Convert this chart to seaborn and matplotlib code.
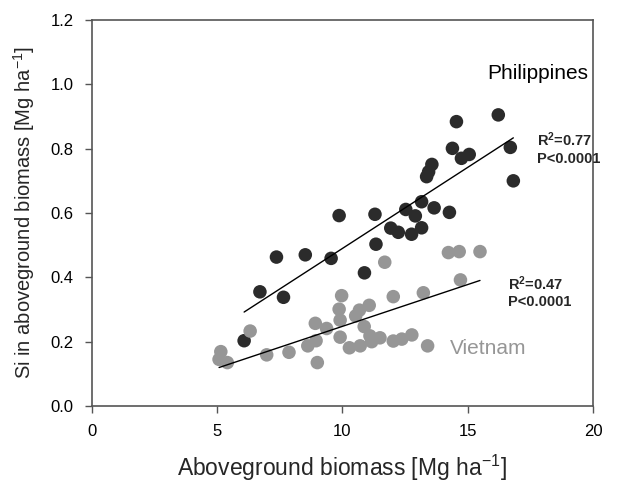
import matplotlib
matplotlib.use("Agg")
import matplotlib.pyplot as plt
import seaborn as sns
import pandas as pd
import numpy as np

# Philippines data (Aboveground biomass, Si in aboveground biomass)
ph_biomass = [6.08, 6.71, 7.37, 7.65, 8.52, 9.55, 9.87, 10.88, 11.30, 11.34,
              11.93, 12.23, 12.53, 12.76, 12.91, 13.16, 13.16, 13.36, 13.44, 13.57,
              13.66, 14.27, 14.39, 14.55, 14.75, 15.06, 16.22, 16.70, 16.82]
ph_si = [0.203, 0.355, 0.463, 0.338, 0.470, 0.459, 0.592, 0.414, 0.596, 0.503,
         0.553, 0.540, 0.611, 0.534, 0.591, 0.635, 0.554, 0.713, 0.728, 0.751,
         0.616, 0.602, 0.801, 0.884, 0.770, 0.782, 0.905, 0.804, 0.700]

# Vietnam data
vn_biomass = [5.15, 5.08, 5.41, 6.32, 6.98, 7.87, 8.62, 8.92, 8.95, 9.00,
              9.37, 9.97, 9.87, 9.91, 9.91, 10.28, 10.53, 10.68, 10.71, 10.87,
              11.07, 11.10, 11.17, 11.50, 11.69, 12.03, 12.03, 12.37, 12.77, 13.23,
              13.40, 14.23, 14.66, 14.71, 15.49]
vn_si = [0.169, 0.145, 0.135, 0.233, 0.159, 0.167, 0.187, 0.257, 0.203, 0.135,
         0.241, 0.343, 0.301, 0.267, 0.214, 0.181, 0.280, 0.298, 0.187, 0.247,
         0.313, 0.218, 0.200, 0.212, 0.447, 0.340, 0.202, 0.208, 0.221, 0.352,
         0.187, 0.477, 0.480, 0.392, 0.480]

x_ticks = [0, 5, 10, 15, 20]
y_ticks = [0.0, 0.2, 0.4, 0.6, 0.8, 1.0, 1.2]
y_tick_labels = ["0.0", "0.2", "0.4", "0.6", "0.8", "1.0", "1.2"]

df = pd.DataFrame({
    "biomass": ph_biomass + vn_biomass,
    "si": ph_si + vn_si,
    "country": ["Philippines"] * len(ph_biomass) + ["Vietnam"] * len(vn_biomass),
})

sns.set_style("ticks")
plt.rcParams["font.family"] = ["Liberation Sans", "DejaVu Sans"]
plt.rcParams["mathtext.fontset"] = "custom"
plt.rcParams["mathtext.rm"] = "Liberation Sans"
plt.rcParams["mathtext.it"] = "Liberation Sans:italic"
plt.rcParams["mathtext.bf"] = "Liberation Sans:bold"

dark = "#2b2b2b"
gray = "#969696"

fig = plt.figure(figsize=(6.37, 4.83), dpi=100)
ax = fig.add_axes([0.144, 0.1594, 0.787, 0.7992])

sns.scatterplot(data=df, x="biomass", y="si", hue="country",
                palette={"Philippines": dark, "Vietnam": gray},
                s=95, linewidth=0, legend=False, ax=ax, zorder=2)

for name in ["Philippines", "Vietnam"]:
    sub = df[df["country"] == name]
    sns.regplot(data=sub, x="biomass", y="si", scatter=False, ci=None,
                line_kws={"color": "black", "lw": 1.0, "zorder": 3}, ax=ax)

ax.set_xlim(0, 20)
ax.set_ylim(0, 1.2)
ax.set_xticks(x_ticks)
ax.set_xticklabels([str(t) for t in x_ticks])
ax.set_yticks(y_ticks)
ax.set_yticklabels(y_tick_labels)
ax.tick_params(direction="out", length=5, width=1, colors="#555555",
               labelsize=12, labelcolor="black", pad=8)
for sp in ax.spines.values():
    sp.set_visible(True)
    sp.set_color("#555555")
    sp.set_linewidth(1.2)

ax.set_xlabel(r"Aboveground biomass [Mg ha$^{-1}$]", fontsize=16.5, labelpad=10)
ax.set_ylabel(r"Si in aboveground biomass [Mg ha$^{-1}$]", fontsize=14.5, labelpad=10)

ax.text(0.788, 0.862, "Philippines", transform=ax.transAxes, fontsize=15,
        color="black", ha="left", va="center")
ax.text(0.715, 0.15, "Vietnam", transform=ax.transAxes, fontsize=15,
        color=gray, ha="left", va="center")

ax.text(0.888, 0.668, r"R$^{\mathbf{2}}$=0.77" + "\nP<0.0001", transform=ax.transAxes,
        fontsize=10.5, fontweight="bold", ha="left", va="center", linespacing=1.2)
ax.text(0.830, 0.296, r"R$^{\mathbf{2}}$=0.47" + "\nP<0.0001", transform=ax.transAxes,
        fontsize=10.5, fontweight="bold", ha="left", va="center", linespacing=1.2)

fig.savefig("out.png", dpi=100)
